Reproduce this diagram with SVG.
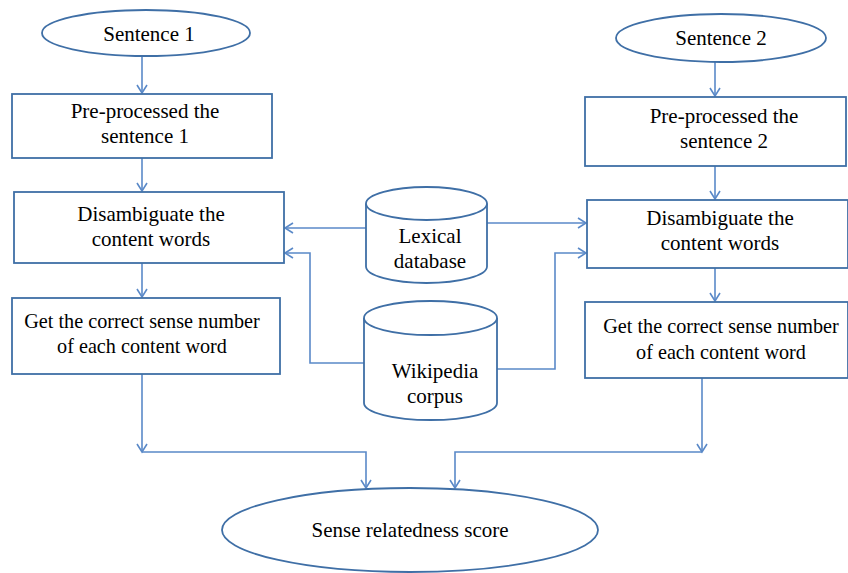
<svg xmlns="http://www.w3.org/2000/svg" width="848" height="573" viewBox="0 0 848 573" font-family="'Liberation Serif', 'Times New Roman', serif" font-size="21">
<style>
.shape{fill:#ffffff;stroke:#3f6fa6;stroke-width:1.8}
.conn{fill:none;stroke:#5a89c8;stroke-width:1.6}
text{font-family:'Liberation Serif','Times New Roman',serif;font-size:21px;fill:#000000;text-anchor:middle}
text.s{font-size:20.2px}
</style>
<defs>
<marker id="arr" markerWidth="12" markerHeight="12" refX="10" refY="6" orient="auto" markerUnits="userSpaceOnUse">
<path d="M2,1 L10,6 L2,11" fill="none" stroke="#5a89c8" stroke-width="1.6"/>
</marker>
</defs>
<rect width="848" height="573" fill="#ffffff"/>
<g id="connectors">
<line class="conn" x1="142" y1="56" x2="142" y2="93" marker-end="url(#arr)"/>
<line class="conn" x1="142" y1="158" x2="142" y2="191" marker-end="url(#arr)"/>
<line class="conn" x1="142" y1="263" x2="142" y2="297" marker-end="url(#arr)"/>
<line class="conn" x1="715" y1="62" x2="715" y2="96" marker-end="url(#arr)"/>
<line class="conn" x1="715" y1="166" x2="715" y2="199" marker-end="url(#arr)"/>
<line class="conn" x1="715" y1="268" x2="715" y2="301" marker-end="url(#arr)"/>
<line class="conn" x1="366" y1="228" x2="285" y2="228" marker-end="url(#arr)"/>
<line class="conn" x1="487" y1="223" x2="586" y2="223" marker-end="url(#arr)"/>
<polyline class="conn" points="364,363 310,363 310,253 285,253" marker-end="url(#arr)"/>
<polyline class="conn" points="497,369 555,369 555,253 586,253" marker-end="url(#arr)"/>
<polyline class="conn" points="142,374 142,452" marker-end="url(#arr)"/>
<polyline class="conn" points="142,452 366,452 366,488" marker-end="url(#arr)"/>
<polyline class="conn" points="702,378 702,452" marker-end="url(#arr)"/>
<polyline class="conn" points="702,452 455,452 455,488" marker-end="url(#arr)"/>
</g>
<g id="sentence1">
<ellipse class="shape" cx="146" cy="33" rx="104" ry="23"/>
<text x="149" y="41">Sentence 1</text>
</g>
<g id="preprocess1">
<rect class="shape" x="12" y="94" width="260" height="64"/>
<text x="145" y="118">Pre-processed the</text>
<text x="145" y="143">sentence 1</text>
</g>
<g id="disambiguate1">
<rect class="shape" x="14" y="192" width="270" height="71"/>
<text x="151" y="221">Disambiguate the</text>
<text x="151" y="246">content words</text>
</g>
<g id="sense1">
<rect class="shape" x="12" y="298" width="268" height="76"/>
<text class="s" x="142" y="328">Get the correct sense number</text>
<text class="s" x="142" y="353">of each content word</text>
</g>
<g id="sentence2">
<ellipse class="shape" cx="721" cy="38" rx="105" ry="24"/>
<text x="721" y="45">Sentence 2</text>
</g>
<g id="preprocess2">
<rect class="shape" x="585" y="97" width="261" height="69"/>
<text x="724" y="123">Pre-processed the</text>
<text x="724" y="148">sentence 2</text>
</g>
<g id="disambiguate2">
<rect class="shape" x="587" y="200" width="261" height="68"/>
<text x="720" y="225">Disambiguate the</text>
<text x="720" y="250">content words</text>
</g>
<g id="sense2">
<rect class="shape" x="585" y="302" width="263" height="76"/>
<text class="s" x="721" y="333">Get the correct sense number</text>
<text class="s" x="721" y="359">of each content word</text>
</g>
<g id="lexical">
<path class="shape" d="M366,203.5 L366,266.5 A60.5,16.5 0 0 0 487,266.5 L487,203.5"/>
<ellipse class="shape" cx="426.5" cy="203.5" rx="60.5" ry="16.5"/>
<text x="430" y="243">Lexical</text>
<text x="430" y="268">database</text>
</g>
<g id="wikipedia">
<path class="shape" d="M364,318 L364,403 A66.5,17 0 0 0 497,403 L497,318"/>
<ellipse class="shape" cx="430.5" cy="318" rx="66.5" ry="17"/>
<text x="435" y="378">Wikipedia</text>
<text x="435" y="403">corpus</text>
</g>
<g id="score">
<ellipse class="shape" cx="410" cy="530" rx="188" ry="42"/>
<text x="410" y="537">Sense relatedness score</text>
</g>
</svg>
